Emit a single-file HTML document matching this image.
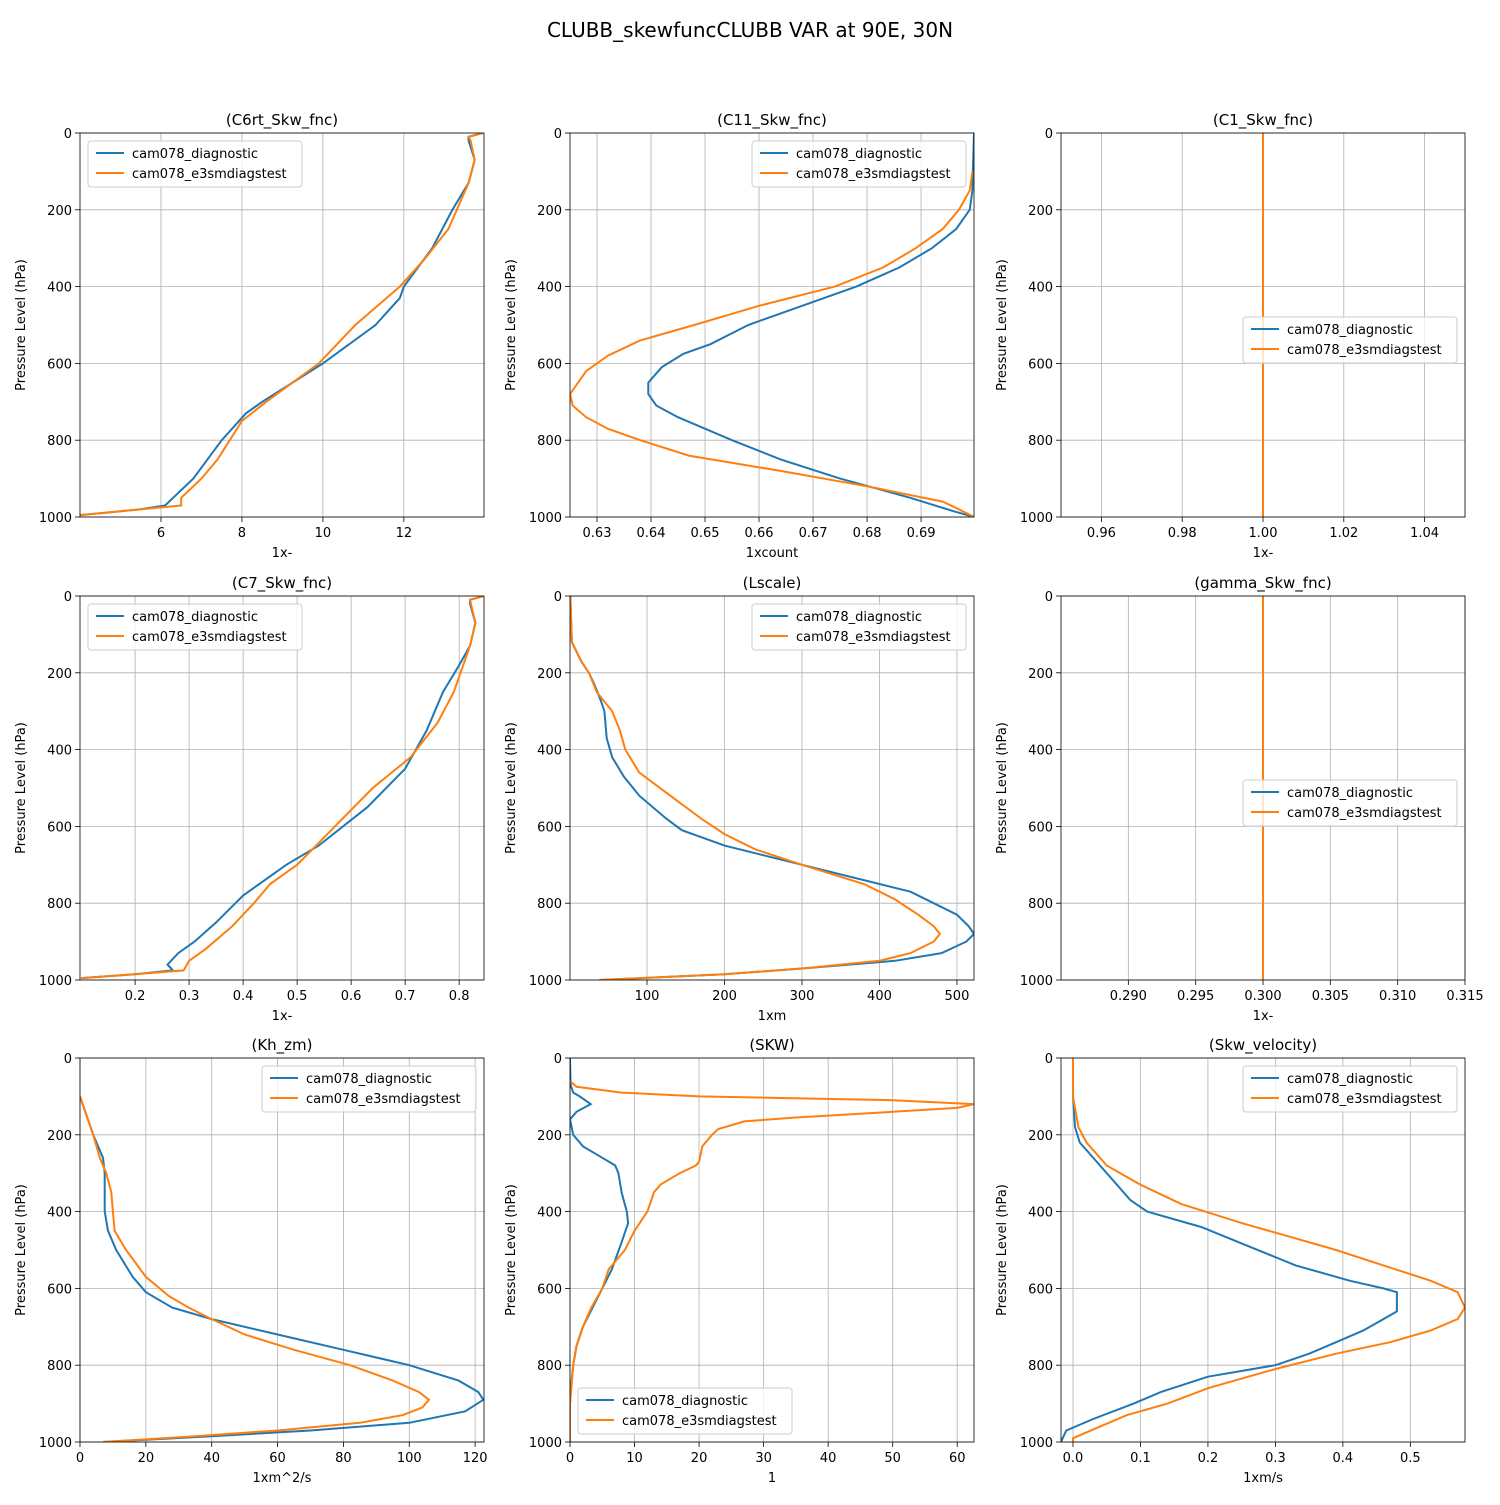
<!DOCTYPE html>
<html><head><meta charset="utf-8"><style>
body{margin:0;background:#fff;font-family:"Liberation Sans","DejaVu Sans",sans-serif}
svg text{font-family:"DejaVu Sans","Liberation Sans",sans-serif}
</style></head><body>
<svg id="fig" width="1500" height="1500" xmlns="http://www.w3.org/2000/svg">
<rect width="1500" height="1500" fill="#fff"/>
<text x="750" y="37" font-size="20" text-anchor="middle">CLUBB_skewfuncCLUBB VAR at 90E, 30N</text>
</svg>
<script>
// ---- data arrays ----
const p1BlueP=[0,10,20,70,130,200,300,400,430,500,600,700,730,800,900,950,970,980,990,995];
const p1BlueV=[13.95,13.6,13.6,13.75,13.6,13.2,12.7,12.0,11.9,11.3,10.0,8.5,8.1,7.5,6.8,6.3,6.1,5.5,4.5,4.0];
const p1OrP=[0,10,20,70,130,250,330,400,500,600,700,750,850,900,950,970,985,995];
const p1OrV=[13.95,13.6,13.65,13.75,13.6,13.1,12.5,11.9,10.8,9.9,8.6,8.0,7.4,7.0,6.5,6.5,5.0,4.0];
const p2BlueP=[0,150,200,250,300,350,400,450,500,550,575,610,650,680,710,740,800,850,900,950,985,1000];
const p2BlueV=[0.6998,0.6995,0.699,0.6965,0.692,0.686,0.678,0.668,0.658,0.651,0.646,0.642,0.6395,0.6395,0.641,0.645,0.655,0.664,0.675,0.688,0.696,0.6998];
const p2OrP=[100,150,200,250,300,350,400,450,500,540,580,620,650,680,710,740,770,800,840,880,920,960,980,1000];
const p2OrV=[0.6995,0.699,0.697,0.694,0.689,0.683,0.674,0.66,0.648,0.638,0.632,0.628,0.6265,0.625,0.6255,0.628,0.632,0.638,0.647,0.664,0.68,0.694,0.697,0.6998];
const p3P=[0,1000]; const p3V=[1.0,1.0];
const p4BlueP=[0,10,20,70,130,180,250,350,450,550,650,700,780,850,900,930,960,975,985,995];
const p4BlueV=[0.846,0.82,0.82,0.83,0.82,0.80,0.77,0.74,0.70,0.63,0.54,0.48,0.40,0.35,0.31,0.28,0.26,0.27,0.2,0.1];
const p4OrP=[0,10,70,130,250,330,420,500,600,700,750,800,860,920,950,975,985,995];
const p4OrV=[0.846,0.82,0.83,0.82,0.79,0.76,0.71,0.64,0.57,0.50,0.45,0.42,0.38,0.33,0.30,0.29,0.2,0.1];
const p5BlueP=[0,120,170,200,230,270,300,370,420,470,520,580,610,650,700,750,770,800,830,860,880,900,930,950,970,985,1000];
const p5BlueV=[1,3,15,25,32,40,45,48,55,70,90,125,145,200,300,400,440,470,500,515,522,512,480,420,300,200,40];
const p5OrP=[0,120,170,200,250,300,350,400,460,520,580,620,660,700,750,790,830,860,880,900,930,950,970,985,1000];
const p5OrV=[1,3,15,25,35,55,65,72,90,130,170,200,240,300,380,420,450,470,478,470,440,400,300,200,38];
const p6P=[0,1000]; const p6V=[0.3,0.3];
const p7BlueP=[100,150,200,260,300,400,450,500,570,610,650,680,720,760,800,840,870,890,920,950,970,985,1000];
const p7BlueV=[0,2,4,7,7.5,7.5,8.5,11,16,20,28,40,60,80,100,115,121,122.5,117,100,70,40,7];
const p7OrP=[100,150,200,260,300,350,400,450,500,570,620,650,680,720,760,800,840,870,890,910,930,950,970,985,1000];
const p7OrV=[0,2,4,6,8,9.5,10,10.5,14,20,27,33,40,50,65,82,95,103,106,104,98,85,60,35,7];
const p8BlueP=[0,70,90,100,120,140,160,200,230,260,280,300,350,400,430,480,550,600,650,700,750,800,850,900,1000];
const p8BlueV=[0,0.1,0.5,1.5,3.2,1,0,0.5,2,5,7,7.5,8,8.8,9,8,6.5,5,3.5,2,1,0.5,0.2,0,0];
const p8OrP=[60,75,90,100,110,120,130,140,155,165,185,200,230,270,280,300,330,350,400,450,500,550,600,650,700,750,800,900,1000];
const p8OrV=[0,1,8,20,50,62.6,60,50,35,27,23,22,20.5,20,19.5,17,14,13,12,10,8.5,6,5,3.3,2,1,0.5,0,0];
const p9BlueP=[0,100,180,220,250,290,330,370,400,440,490,540,580,600,610,660,680,710,740,770,800,830,870,900,940,970,1000];
const p9BlueV=[0,0,0.003,0.01,0.025,0.045,0.065,0.085,0.11,0.19,0.26,0.33,0.41,0.46,0.48,0.48,0.46,0.43,0.39,0.35,0.3,0.2,0.13,0.09,0.03,-0.01,-0.018];
const p9OrP=[0,100,180,220,280,330,380,430,460,500,540,580,610,650,680,710,740,770,810,860,900,930,960,990,1000];
const p9OrV=[0,0,0.008,0.02,0.05,0.1,0.16,0.25,0.31,0.39,0.46,0.53,0.57,0.581,0.57,0.53,0.47,0.39,0.3,0.2,0.14,0.08,0.04,0.0,0];
const yTicks=[0,200,400,600,800,1000];

const NS="http://www.w3.org/2000/svg";
const fig=document.getElementById('fig');
function mk(tag,attrs,parent){const e=document.createElementNS(NS,tag);for(const k in attrs)e.setAttribute(k,attrs[k]);(parent||fig).appendChild(e);return e;}
const cols=[80,570,1061], rows=[133,596,1058], W=404, H=384;
const panels=[
 {t:"(C6rt_Skw_fnc)",xl:"1x-",r:[4.0,13.98],ticks:[6,8,10,12],fmt:v=>v,b:[p1BlueV,p1BlueP],o:[p1OrV,p1OrP],leg:"ul"},
 {t:"(C11_Skw_fnc)",xl:"1xcount",r:[0.625,0.6998],ticks:[0.63,0.64,0.65,0.66,0.67,0.68,0.69],fmt:v=>v.toFixed(2),b:[p2BlueV,p2BlueP],o:[p2OrV,p2OrP],leg:"ur"},
 {t:"(C1_Skw_fnc)",xl:"1x-",r:[0.95,1.05],ticks:[0.96,0.98,1.00,1.02,1.04],fmt:v=>v.toFixed(2),b:[p3V,p3P],o:[p3V,p3P],leg:"cr"},
 {t:"(C7_Skw_fnc)",xl:"1x-",r:[0.098,0.846],ticks:[0.2,0.3,0.4,0.5,0.6,0.7,0.8],fmt:v=>v.toFixed(1),b:[p4BlueV,p4BlueP],o:[p4OrV,p4OrP],leg:"ul"},
 {t:"(Lscale)",xl:"1xm",r:[0.6,522],ticks:[100,200,300,400,500],fmt:v=>v,b:[p5BlueV,p5BlueP],o:[p5OrV,p5OrP],leg:"ur"},
 {t:"(gamma_Skw_fnc)",xl:"1x-",r:[0.285,0.315],ticks:[0.29,0.295,0.3,0.305,0.31,0.315],fmt:v=>v.toFixed(3),b:[p6V,p6P],o:[p6V,p6P],leg:"cr"},
 {t:"(Kh_zm)",xl:"1xm^2/s",r:[0,122.7],ticks:[0,20,40,60,80,100,120],fmt:v=>v,b:[p7BlueV,p7BlueP],o:[p7OrV,p7OrP],leg:"ur"},
 {t:"(SKW)",xl:"1",r:[0,62.6],ticks:[0,10,20,30,40,50,60],fmt:v=>v,b:[p8BlueV,p8BlueP],o:[p8OrV,p8OrP],leg:"ll"},
 {t:"(Skw_velocity)",xl:"1xm/s",r:[-0.0178,0.581],ticks:[0,0.1,0.2,0.3,0.4,0.5],fmt:v=>v.toFixed(1),b:[p9BlueV,p9BlueP],o:[p9OrV,p9OrP],leg:"ur"}
];
panels.forEach((pn,i)=>{
 const L=cols[i%3], T=rows[Math.floor(i/3)];
 const g=mk('g',{});
 
 
 const sx=v=>L+(v-pn.r[0])/(pn.r[1]-pn.r[0])*W;
 const sy=p=>T+p/1000*H;
 pn.ticks.forEach(t=>{
  const x=sx(t);
  const gl=mk('line',{x1:x,x2:x,y1:T,y2:T+H,stroke:"#b0b0b0","stroke-width":0.8},g);
  
  
  mk('line',{x1:x,x2:x,y1:T+H,y2:T+H+5,stroke:"#000","stroke-width":0.8},g);
  const tx=mk('text',{x:x,y:T+H+20,"font-size":13,"text-anchor":"middle"},g);
  tx.textContent=pn.fmt(t);
  
  
 });
 yTicks.forEach(t=>{
  const y=sy(t);
  const gl=mk('line',{x1:L,x2:L+W,y1:y,y2:y,stroke:"#b0b0b0","stroke-width":0.8},g);
  
  
  mk('line',{x1:L-5,x2:L,y1:y,y2:y,stroke:"#000","stroke-width":0.8},g);
  const tx=mk('text',{x:L-8,y:y+5,"font-size":13,"text-anchor":"end"},g);
  tx.textContent=t;
  
  
 });
 const clipId='c'+i;
 const cp=mk('clipPath',{id:clipId},g); mk('rect',{x:L,y:T,width:W,height:H},cp);
 [[pn.b,"#1f77b4","series-cam078-diagnostic"],[pn.o,"#ff7f0e","series-cam078-e3smdiagstest"]].forEach(([d,c,n])=>{
  const pts=d[0].map((v,k)=>sx(v).toFixed(1)+","+sy(d[1][k]).toFixed(1)).join(" ");
  const pl=mk('polyline',{points:pts,fill:"none",stroke:c,"stroke-width":2,"clip-path":"url(#"+clipId+")"},g);
  
  
 });
 mk('rect',{x:L,y:T,width:W,height:H,fill:"none",stroke:"#000","stroke-width":0.8},g);
 const ti=mk('text',{x:L+W/2,y:T-8,"font-size":15,"text-anchor":"middle"},g);
 ti.textContent=pn.t;
 
 
 const xl=mk('text',{x:L+W/2,y:T+H+40,"font-size":13,"text-anchor":"middle"},g);
 xl.textContent=pn.xl;
 
 
 const yl=mk('text',{x:0,y:0,"font-size":13,"text-anchor":"middle",transform:`translate(${L-55},${T+H/2}) rotate(-90)`},g);
 yl.textContent="Pressure Level (hPa)";
 
 
 const lw=214,lh=46;
 let lx,ly;
 if(pn.leg==="ul"){lx=L+8;ly=T+8;} else if(pn.leg==="ur"){lx=L+W-8-lw;ly=T+8;}
 else if(pn.leg==="cr"){lx=L+W-8-lw;ly=T+H/2-lh/2+15;} else {lx=L+8;ly=T+H-8-lh;}
 const lg=mk('g',{},g);
 
 
 mk('rect',{x:lx,y:ly,width:lw,height:lh,rx:3,fill:"#fff","fill-opacity":0.8,stroke:"#ccc"},lg);
 [["cam078_diagnostic","#1f77b4"],["cam078_e3smdiagstest","#ff7f0e"]].forEach(([s,c],k)=>{
  const yy=ly+12+k*20;
  mk('line',{x1:lx+8,x2:lx+36,y1:yy,y2:yy,stroke:c,"stroke-width":2},lg);
  const t=mk('text',{x:lx+44,y:yy+5,"font-size":13},lg);
  t.textContent=s;
  
  
 });
});
</script>
</body></html>
